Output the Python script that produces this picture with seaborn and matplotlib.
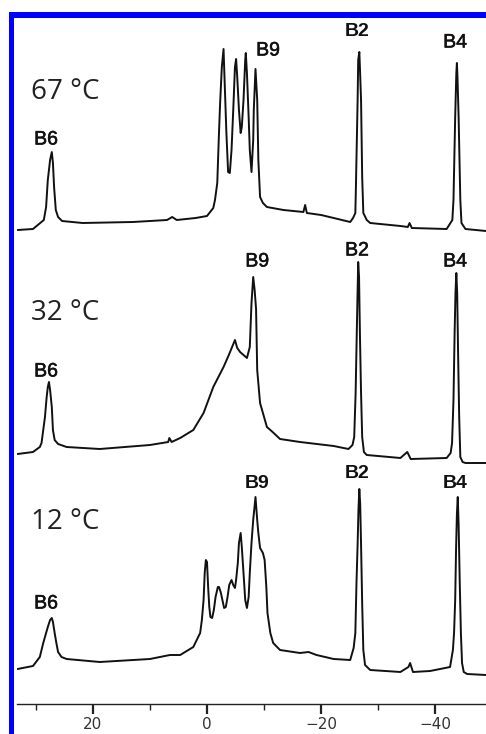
import matplotlib
matplotlib.use("Agg")
import matplotlib.pyplot as plt
import matplotlib.patheffects as pe
import seaborn as sns
import pandas as pd
from matplotlib.patches import Rectangle
from matplotlib.ticker import MultipleLocator

# ---- data (ppm vs. stacked intensity, arbitrary units) ----
ppm_67 = [33.2, 30.5, 28.6, 28.2, 27.9, 27.5, 27.2, 27.0, 26.8, 26.5,
          26.1, 25.4, 21.8, 13.0, 7.0, 6.1, 5.3, 2.0, 0.0, -1.1,
          -1.4, -1.8, -2.1, -2.3, -2.6, -2.9, -3.1, -3.4, -3.7, -4.0,
          -4.3, -4.6, -4.9, -5.1, -5.3, -5.6, -5.9, -6.1, -6.4, -6.7,
          -6.8, -7.0, -7.3, -7.5, -7.8, -8.1, -8.2, -8.5, -8.8, -9.0,
          -9.3, -9.8, -10.5, -13.4, -16.9, -17.2, -17.5, -20.0, -22.2, -25.1,
          -25.6, -26.0, -26.1, -26.4, -26.5, -26.7, -26.8, -27.0, -27.2, -27.4,
          -28.0, -28.6, -33.9, -35.2, -35.5, -35.9, -42.0, -43.0, -43.2, -43.5,
          -43.7, -43.8, -43.9, -44.1, -44.4, -44.6, -45.3, -48.9]
int_67 = [474, 475, 484, 497, 524, 544, 552, 541, 517, 494,
          487, 483, 481, 482, 484, 487, 484, 486, 488, 496,
          504, 521, 571, 601, 637, 655, 621, 571, 532, 531,
          554, 594, 637, 645, 627, 594, 571, 577, 604, 644,
          651, 631, 587, 554, 532, 564, 594, 635, 604, 544,
          507, 501, 497, 494, 492, 499, 491, 489, 486, 482,
          486, 491, 517, 604, 644, 652, 637, 604, 527, 491,
          484, 481, 478, 477, 481, 476, 475, 484, 504, 587,
          631, 641, 627, 587, 504, 481, 475, 473]

ppm_32 = [33.2, 30.5, 29.3, 29.0, 28.7, 28.4, 28.1, 27.9, 27.7, 27.5,
          27.2, 27.0, 26.7, 26.1, 24.6, 18.8, 10.0, 6.8, 6.6, 6.2,
          4.7, 2.4, 0.6, -1.1, -2.9, -3.9, -4.9, -5.3, -5.8, -7.0,
          -7.5, -7.8, -8.1, -8.35, -8.6, -8.8, -9.3, -10.5, -11.5, -12.8,
          -16.3, -22.2, -24.8, -25.5, -25.8, -26.05, -26.25, -26.4, -26.5, -26.65,
          -26.8, -27.0, -27.2, -27.5, -28.0, -33.9, -35.1, -35.7, -42.0, -42.7,
          -42.95, -43.2, -43.4, -43.55, -43.7, -43.85, -44.0, -44.2, -44.4, -44.8,
          -45.3, -48.9]
int_32 = [250, 252, 257, 261, 274, 287, 307, 317, 322, 314,
          297, 274, 264, 260, 257, 255, 259, 262, 266, 262,
          266, 274, 291, 317, 337, 350, 364, 356, 352, 346,
          357, 401, 427, 414, 395, 334, 301, 277, 272, 265,
          262, 258, 255, 259, 267, 311, 371, 414, 442, 427,
          371, 311, 267, 252, 249, 246, 252, 245, 246, 251,
          261, 304, 371, 411, 431, 411, 354, 287, 247, 242,
          241, 241]

ppm_12 = [33.2, 30.5, 29.3, 28.7, 28.4, 27.9, 27.5, 27.2, 27.0, 26.7,
          26.4, 26.1, 25.5, 24.6, 18.8, 10.0, 6.5, 4.7, 2.4, 1.2,
          0.9, 0.6, 0.4, 0.2, 0.0, -0.2, -0.4, -0.6, -0.9, -1.2,
          -1.5, -1.9, -2.1, -2.4, -2.7, -3.0, -3.3, -3.6, -3.9, -4.3,
          -4.6, -4.9, -5.1, -5.4, -5.6, -5.9, -6.1, -6.4, -6.7, -7.0,
          -7.3, -7.5, -7.8, -8.1, -8.5, -8.8, -9.0, -9.3, -9.8, -10.1,
          -10.4, -10.6, -11.1, -11.6, -12.8, -16.3, -17.8, -19.2, -22.2, -25.1,
          -25.7, -26.0, -26.2, -26.4, -26.55, -26.7, -26.85, -27.0, -27.2, -27.4,
          -27.7, -28.6, -33.9, -35.3, -35.6, -36.1, -39.1, -42.6, -43.1, -43.3,
          -43.5, -43.65, -43.8, -43.95, -44.1, -44.3, -44.5, -44.7, -45.0, -45.6,
          -48.9]
int_12 = [35, 38, 47, 61, 67, 77, 84, 86, 82, 71,
          61, 52, 47, 45, 42, 45, 49, 49, 57, 71,
          84, 104, 131, 144, 142, 117, 97, 87, 86, 94,
          107, 117, 117, 112, 104, 96, 97, 107, 119, 124,
          119, 116, 124, 141, 161, 171, 157, 131, 104, 96,
          107, 131, 161, 184, 207, 184, 171, 156, 151, 144,
          117, 91, 71, 61, 54, 51, 52, 49, 45, 44,
          56, 71, 121, 160, 195, 215, 200, 160, 100, 54,
          39, 34, 32, 37, 41, 32, 33, 37, 54, 71,
          104, 154, 190, 207, 180, 121, 71, 41, 32, 30,
          29]

temperatures = ["67 °C", "32 °C", "12 °C"]
peak_names = ["B6", "B9", "B2", "B4"]
tick_values = [20, 0, -20, -40]
tick_labels = ["20", "0", "\u221220", "\u221240"]

# ---- figure ----
sns.set_style("white")
plt.rcParams["font.family"] = ["DejaVu Sans"]

fig = plt.figure(figsize=(4.86, 7.34), dpi=100)
ax = fig.add_axes([17 / 486, 30 / 734, 469 / 486, 704 / 734])
ax.patch.set_alpha(0)

series = [(ppm_67, int_67), (ppm_32, int_32), (ppm_12, int_12)]
for t, (xs, ys) in zip(temperatures, series):
    df = pd.DataFrame({"ppm": xs, "intensity": ys})
    sns.lineplot(data=df, x="ppm", y="intensity", ax=ax, color="#111111",
                 linewidth=1.4, sort=False, estimator=None)

ax.set_xlim(33.3, -48.9)
ax.set_ylim(0, 704)
ax.set_xlabel("")
ax.set_ylabel("")
ax.set_yticks([])
for s in ["left", "right", "top"]:
    ax.spines[s].set_visible(False)
ax.spines["bottom"].set_color("#222222")
ax.spines["bottom"].set_linewidth(1.0)
ax.set_xticks(tick_values)
ax.set_xticklabels(tick_labels)
ax.xaxis.set_minor_locator(MultipleLocator(10))
ax.tick_params(axis="x", which="major", direction="out", length=7.5, width=1.6,
               color="#222222", labelsize=11, labelcolor="#333333", pad=2, bottom=True)
ax.tick_params(axis="x", which="minor", direction="out", length=4, width=1.0,
               color="#222222", bottom=True)

# ---- labels ----
temp_font = dict(family=["Open Sans", "DejaVu Sans"], fontsize=20, color="#222222",
                 ha="left", va="center")
lab_font = dict(family=["Liberation Sans", "DejaVu Sans"], fontsize=14, color="#111111",
                ha="center", va="center")

temp_y = [612, 391, 182]
for t, y in zip(temperatures, temp_y):
    ax.text(30.8, y, t, **temp_font)

label_x = {"B6": 28.2, "B9": -10.7, "B2": -26.3, "B4": -43.5}
label_y = [
    {"B6": 564, "B9": 653, "B2": 673, "B4": 661},
    {"B6": 332, "B9": 442, "B2": 453, "B4": 442},
    {"B6": 100, "B9": 221, "B2": 231, "B4": 220},
]
label_w = [
    {"B6": "normal", "B9": "normal", "B2": "bold", "B4": "normal"},
    {"B6": "normal", "B9": "normal", "B2": "normal", "B4": "normal"},
    {"B6": "normal", "B9": "bold", "B2": "bold", "B4": "bold"},
]
b9_x = [-10.7, -8.8, -8.8]
for i in range(3):
    for name in peak_names:
        x = b9_x[i] if name == "B9" else label_x[name]
        w = label_w[i][name]
        txt = ax.text(x, label_y[i][name], name, fontweight=w, **lab_font)
        if w == "normal":
            txt.set_path_effects([pe.withStroke(linewidth=0.4, foreground="#111111")])

# ---- blue frame (screenshot selection border) ----
fig.add_artist(Rectangle((9 / 486, (734 - 17.5) / 734), 1 - 9 / 486, 5 / 734,
                         transform=fig.transFigure, color="#0000ff", lw=0))
fig.add_artist(Rectangle((9 / 486, 0), 5 / 486, (734 - 12.5) / 734,
                         transform=fig.transFigure, color="#0000ff", lw=0))

fig.savefig("out.png", dpi=100)
